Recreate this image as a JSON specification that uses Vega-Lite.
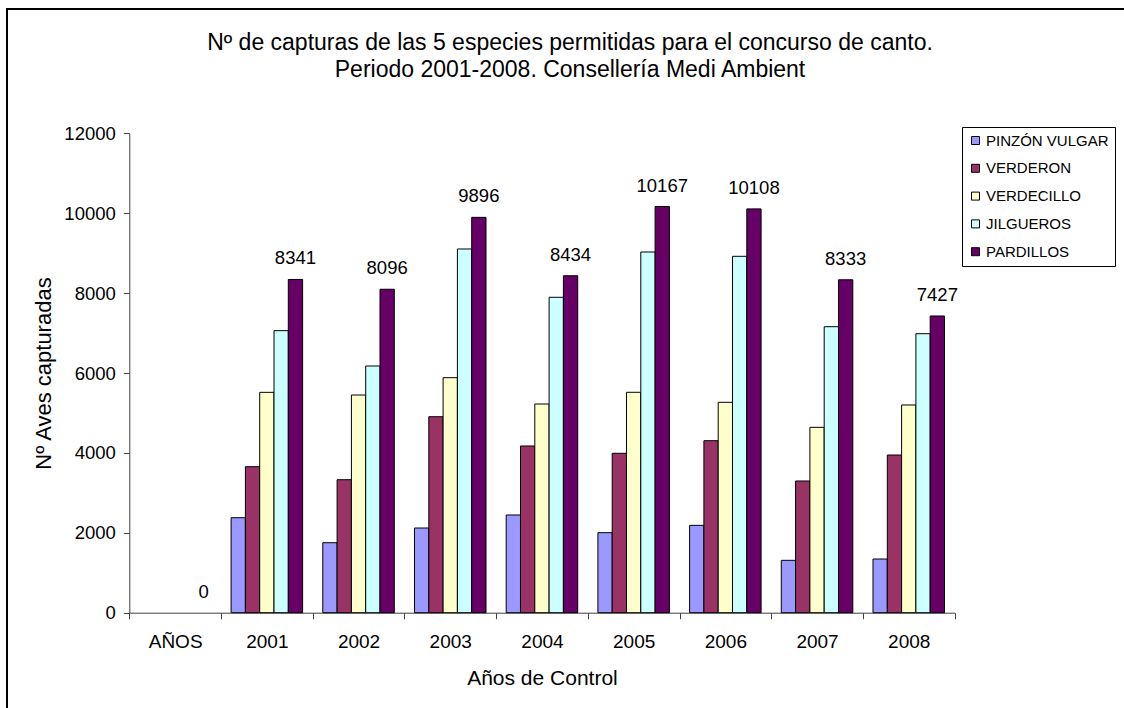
{
  "$schema": "https://vega.github.io/schema/vega-lite/v6.json",
  "autosize": {"type": "none"},
  "width": 1122,
  "height": 704,
  "padding": {"left": 7, "top": 9, "right": -5, "bottom": -5},
  "background": "white",
  "title": {
    "text": ["Nº de capturas de las 5 especies permitidas para el concurso de canto.", "Periodo 2001-2008. Consellería Medi Ambient"],
    "font": "Liberation Sans",
    "fontSize": 23,
    "fontWeight": "normal",
    "color": "black",
    "anchor": "middle",
    "frame": "group",
    "baseline": "top",
    "orient": "top",
    "offset": 0,
    "dy": 73,
    "dx": 2,
    "lineHeight": 27
  },
  "config": {
    "view": {"stroke": "black", "strokeWidth": 2},
    "font": "Liberation Sans",
    "axis": {
      "domainColor": "#404040",
      "tickColor": "#404040",
      "labelColor": "black",
      "titleColor": "black",
      "labelFont": "Liberation Sans",
      "titleFont": "Liberation Sans",
      "titleFontWeight": "normal",
      "grid": false
    },
    "legend": {
      "labelFont": "Liberation Sans"
    }
  },
  "data": {
    "values": [
      {"year": "AÑOS", "species": "PINZÓN VULGAR", "value": 0},
      {"year": "AÑOS", "species": "VERDERON", "value": 0},
      {"year": "AÑOS", "species": "VERDECILLO", "value": 0},
      {"year": "AÑOS", "species": "JILGUEROS", "value": 0},
      {"year": "AÑOS", "species": "PARDILLOS", "value": 0},
      {"year": "2001", "species": "PINZÓN VULGAR", "value": 2378},
      {"year": "2001", "species": "VERDERON", "value": 3655},
      {"year": "2001", "species": "VERDECILLO", "value": 5516},
      {"year": "2001", "species": "JILGUEROS", "value": 7060},
      {"year": "2001", "species": "PARDILLOS", "value": 8341},
      {"year": "2002", "species": "PINZÓN VULGAR", "value": 1752},
      {"year": "2002", "species": "VERDERON", "value": 3329},
      {"year": "2002", "species": "VERDECILLO", "value": 5449},
      {"year": "2002", "species": "JILGUEROS", "value": 6175},
      {"year": "2002", "species": "PARDILLOS", "value": 8096},
      {"year": "2003", "species": "PINZÓN VULGAR", "value": 2120},
      {"year": "2003", "species": "VERDERON", "value": 4906},
      {"year": "2003", "species": "VERDECILLO", "value": 5883},
      {"year": "2003", "species": "JILGUEROS", "value": 9104},
      {"year": "2003", "species": "PARDILLOS", "value": 9896},
      {"year": "2004", "species": "PINZÓN VULGAR", "value": 2446},
      {"year": "2004", "species": "VERDERON", "value": 4173},
      {"year": "2004", "species": "VERDECILLO", "value": 5224},
      {"year": "2004", "species": "JILGUEROS", "value": 7895},
      {"year": "2004", "species": "PARDILLOS", "value": 8434},
      {"year": "2005", "species": "PINZÓN VULGAR", "value": 2003},
      {"year": "2005", "species": "VERDERON", "value": 3990},
      {"year": "2005", "species": "VERDECILLO", "value": 5517},
      {"year": "2005", "species": "JILGUEROS", "value": 9029},
      {"year": "2005", "species": "PARDILLOS", "value": 10167},
      {"year": "2006", "species": "PINZÓN VULGAR", "value": 2187},
      {"year": "2006", "species": "VERDERON", "value": 4306},
      {"year": "2006", "species": "VERDECILLO", "value": 5266},
      {"year": "2006", "species": "JILGUEROS", "value": 8921},
      {"year": "2006", "species": "PARDILLOS", "value": 10108},
      {"year": "2007", "species": "PINZÓN VULGAR", "value": 1311},
      {"year": "2007", "species": "VERDERON", "value": 3297},
      {"year": "2007", "species": "VERDECILLO", "value": 4640},
      {"year": "2007", "species": "JILGUEROS", "value": 7159},
      {"year": "2007", "species": "PARDILLOS", "value": 8333},
      {"year": "2008", "species": "PINZÓN VULGAR", "value": 1344},
      {"year": "2008", "species": "VERDERON", "value": 3947},
      {"year": "2008", "species": "VERDECILLO", "value": 5199},
      {"year": "2008", "species": "JILGUEROS", "value": 6984},
      {"year": "2008", "species": "PARDILLOS", "value": 7427}
    ]
  },
  "encoding": {
    "x": {
      "field": "year",
      "type": "nominal",
      "sort": ["AÑOS", "2001", "2002", "2003", "2004", "2005", "2006", "2007", "2008"],
      "scale": {"range": [122.3, 947.6], "paddingInner": 0, "paddingOuter": 0},
      "axis": {
        "orient": "bottom",
        "offset": -100.3,
        "tickBand": "extent",
        "tickSize": 6,
        "labelAngle": 0,
        "labelFontSize": 19,
        "labelPadding": 14,
        "title": "Años de Control",
        "titleFontSize": 21,
        "titlePadding": 16
      }
    },
    "xOffset": {
      "field": "species",
      "type": "nominal",
      "sort": ["PINZÓN VULGAR", "VERDERON", "VERDECILLO", "JILGUEROS", "PARDILLOS"],
      "scale": {"paddingInner": 0, "paddingOuter": 0.706}
    },
    "y": {
      "field": "value",
      "type": "quantitative",
      "scale": {"domain": [0, 12000], "range": [603.7, 124.3], "nice": false},
      "axis": {
        "orient": "left",
        "offset": -122.3,
        "values": [0, 2000, 4000, 6000, 8000, 10000, 12000],
        "format": "d",
        "tickSize": 6,
        "labelFontSize": 18.5,
        "labelPadding": 8,
        "title": "Nº Aves capturadas",
        "titleFontSize": 22,
        "titlePadding": 8
      }
    }
  },
  "layer": [
    {
      "transform": [{"filter": "datum.value > 0"}],
      "mark": {"type": "bar", "stroke": "black", "strokeWidth": 1},
      "encoding": {
        "color": {
          "field": "species",
          "type": "nominal",
          "sort": ["PINZÓN VULGAR", "VERDERON", "VERDECILLO", "JILGUEROS", "PARDILLOS"],
          "scale": {
            "domain": ["PINZÓN VULGAR", "VERDERON", "VERDECILLO", "JILGUEROS", "PARDILLOS"],
            "range": ["#9999FF", "#993366", "#FFFFCC", "#CCFFFF", "#660066"]
          },
          "legend": {
            "title": null,
            "orient": "none",
            "legendX": 955,
            "legendY": 118,
            "strokeColor": "black",
            "fillColor": "white",
            "padding": 6,
            "symbolType": "square",
            "symbolSize": 64,
            "symbolStrokeColor": "black",
            "symbolStrokeWidth": 1,
            "labelFontSize": 15,
            "labelOffset": 3,
            "rowPadding": 11.8,
            "labelColor": "black"
          }
        }
      }
    },
    {
      "transform": [{"filter": "datum.species == 'PARDILLOS'"}],
      "mark": {"type": "text", "baseline": "bottom", "dy": -11, "fontSize": 18.5, "font": "Liberation Sans", "color": "black"},
      "encoding": {
        "text": {"field": "value", "type": "quantitative", "format": "d"}
      }
    }
  ]
}
